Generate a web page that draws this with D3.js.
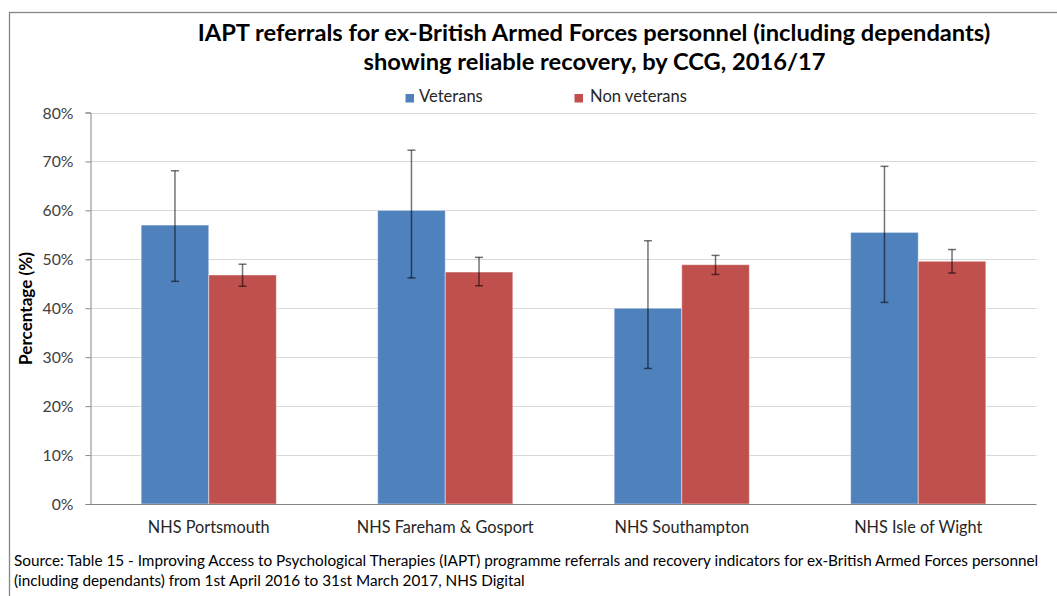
<!DOCTYPE html>
<html>
<head>
<meta charset="utf-8">
<script src="https://cdn.jsdelivr.net/npm/d3@7"></script>
<style>
  html, body { margin: 0; padding: 0; background: #fff; }
  svg { display: block; font-family: Lato, "Open Sans", sans-serif; }
</style>
</head>
<body>
<svg id="chart" width="1057" height="596"></svg>
<script>
// ---- data ----
const categories = ["NHS Portsmouth", "NHS Fareham & Gosport", "NHS Southampton", "NHS Isle of Wight"];
const seriesNames = ["Veterans", "Non veterans"];
const veterans = [57.0, 60.0, 40.0, 55.5];
const veteransLow = [45.5, 46.2, 27.7, 41.2];
const veteransHigh = [68.1, 72.3, 53.8, 69.0];
const nonVeterans = [46.8, 47.4, 48.9, 49.6];
const nonVeteransLow = [44.5, 44.6, 46.9, 47.2];
const nonVeteransHigh = [49.0, 50.4, 50.8, 52.0];
const yTicks = [0, 10, 20, 30, 40, 50, 60, 70, 80];
const titleLines = ["IAPT referrals for ex-British Armed Forces personnel (including dependants)",
                    "showing reliable recovery, by CCG, 2016/17"];
const yAxisTitle = "Percentage (%)";
const sourceLines = ["Source: Table 15 - Improving Access to Psychological Therapies (IAPT) programme referrals and recovery indicators for ex-British Armed Forces personnel",
                     "(including dependants) from 1st April 2016 to 31st March 2017, NHS Digital"];

const colors = { "Veterans": "#4F81BD", "Non veterans": "#C0504D" };

const rows = categories.map((c, i) => ({
  cat: c,
  vals: [
    { s: "Veterans", v: veterans[i], lo: veteransLow[i], hi: veteransHigh[i] },
    { s: "Non veterans", v: nonVeterans[i], lo: nonVeteransLow[i], hi: nonVeteransHigh[i] }
  ]
}));

const svg = d3.select("#chart");

function fit(sel, w) {
  const fs = parseFloat(sel.attr("font-size"));
  const len = sel.node().getComputedTextLength();
  sel.attr("font-size", fs * w / len);
  return fs * w / len;
}

// outer border
svg.append("rect").attr("x", 9.5).attr("y", 12.5).attr("width", 1100).attr("height", 700)
  .attr("fill", "none").attr("stroke", "#868686").attr("stroke-width", 1.3);

// scales
const plotLeft = 90.5, plotRight = 1036.5, plotTop = 112.5, plotBottom = 504;
const x0 = d3.scaleBand().domain(categories).range([plotLeft, plotRight]).padding(0);
const x1 = d3.scaleBand().domain(seriesNames).range([0, x0.bandwidth()]).paddingInner(0).paddingOuter(0.75);
const y = d3.scaleLinear().domain([0, 80]).range([plotBottom, plotTop]);

// gridlines
svg.append("g").selectAll("line").data(yTicks.filter(t => t > 0)).join("line")
  .attr("x1", plotLeft).attr("x2", plotRight)
  .attr("y1", d => Math.round(y(d)) + 0.5).attr("y2", d => Math.round(y(d)) + 0.5)
  .attr("stroke", "#d9d9d9").attr("stroke-width", 1);

// y axis
const yAxis = svg.append("g").attr("transform", `translate(${plotLeft},0)`)
  .call(d3.axisLeft(y).tickValues(yTicks).tickFormat(d => d + "%").tickSize(5).tickPadding(12));
yAxis.select(".domain").attr("stroke", "#868686");
yAxis.selectAll(".tick line").attr("stroke", "#868686");
yAxis.selectAll(".tick text").attr("font-size", 17).attr("fill", "#404040")
  .attr("font-family", "Lato, sans-serif").attr("dy", "0.35em");
{
  const t = yAxis.selectAll(".tick text").filter(d => d === 80);
  const fs = fit(t, 31);
  yAxis.selectAll(".tick text").attr("font-size", fs);
}

// bars
const groups = svg.append("g").selectAll("g").data(rows).join("g")
  .attr("transform", d => `translate(${x0(d.cat)},0)`);
groups.selectAll("rect").data(d => d.vals).join("rect")
  .attr("x", d => x1(d.s)).attr("width", x1.bandwidth())
  .attr("y", d => y(d.v)).attr("height", d => plotBottom - y(d.v))
  .attr("fill", d => colors[d.s])
  .attr("stroke", "rgba(255,255,255,0.45)").attr("stroke-width", 1);

// error bars
const eb = groups.selectAll("g.err").data(d => d.vals).join("g").attr("class", "err")
  .attr("stroke", "#000").attr("stroke-opacity", 0.55).attr("stroke-width", 1.5);
const cx = d => x1(d.s) + x1.bandwidth() / 2;
eb.append("line").attr("x1", cx).attr("x2", cx).attr("y1", d => y(d.hi)).attr("y2", d => y(d.lo));
eb.append("line").attr("x1", d => cx(d) - 4).attr("x2", d => cx(d) + 4).attr("y1", d => y(d.hi)).attr("y2", d => y(d.hi));
eb.append("line").attr("x1", d => cx(d) - 4).attr("x2", d => cx(d) + 4).attr("y1", d => y(d.lo)).attr("y2", d => y(d.lo));

// x axis line
svg.append("line").attr("x1", plotLeft).attr("x2", plotRight).attr("y1", plotBottom + 0.5).attr("y2", plotBottom + 0.5)
  .attr("stroke", "#868686").attr("stroke-width", 1);

// category labels
const xAxis = svg.append("g").attr("transform", `translate(0,${plotBottom})`)
  .call(d3.axisBottom(x0).tickSize(0).tickPadding(0));
xAxis.select(".domain").remove();
xAxis.selectAll(".tick text").attr("font-size", 17).attr("fill", "#262626")
  .attr("font-family", "Lato, sans-serif").attr("y", 29).attr("dy", 0);
{
  const t = xAxis.selectAll(".tick text").filter(d => d === "NHS Portsmouth");
  const fs = fit(t, 122);
  xAxis.selectAll(".tick text").attr("font-size", fs);
}

// title
const t1 = svg.append("text").attr("x", 594).attr("y", 41).attr("text-anchor", "middle")
  .attr("font-weight", "bold").attr("font-size", 22).attr("fill", "#000").text(titleLines[0]);
const tfs = fit(t1, 793);
svg.append("text").attr("x", 594.5).attr("y", 70).attr("text-anchor", "middle")
  .attr("font-weight", "bold").attr("font-size", tfs).attr("fill", "#000").text(titleLines[1]);

// legend
const legendX = [405.5, 574.5];
const lg = svg.append("g").selectAll("g").data(seriesNames).join("g")
  .attr("transform", (d, i) => `translate(${legendX[i]},0)`);
lg.append("rect").attr("x", 0).attr("y", 94).attr("width", 8.5).attr("height", 8.5)
  .attr("fill", d => colors[d]);
const lt = lg.append("text").attr("x", d => d === "Veterans" ? 13.5 : 15.5).attr("y", 102)
  .attr("font-size", 16).attr("fill", "#262626").text(d => d);
{
  const fs = fit(lt.filter(d => d === "Non veterans"), 97);
  lt.attr("font-size", fs);
}

// y axis title
const yt = svg.append("text").attr("transform", "translate(32,308.5) rotate(-90)")
  .attr("text-anchor", "middle").attr("font-weight", "bold").attr("font-size", 16)
  .attr("fill", "#000").text(yAxisTitle);
fit(yt, 113);

// source
const s1 = svg.append("text").attr("x", 14).attr("y", 566).attr("font-size", 15)
  .attr("fill", "#000").text(sourceLines[0]);
const sfs = fit(s1, 1025);
svg.append("text").attr("x", 14).attr("y", 586).attr("font-size", sfs)
  .attr("fill", "#000").text(sourceLines[1]);
</script>
</body>
</html>
